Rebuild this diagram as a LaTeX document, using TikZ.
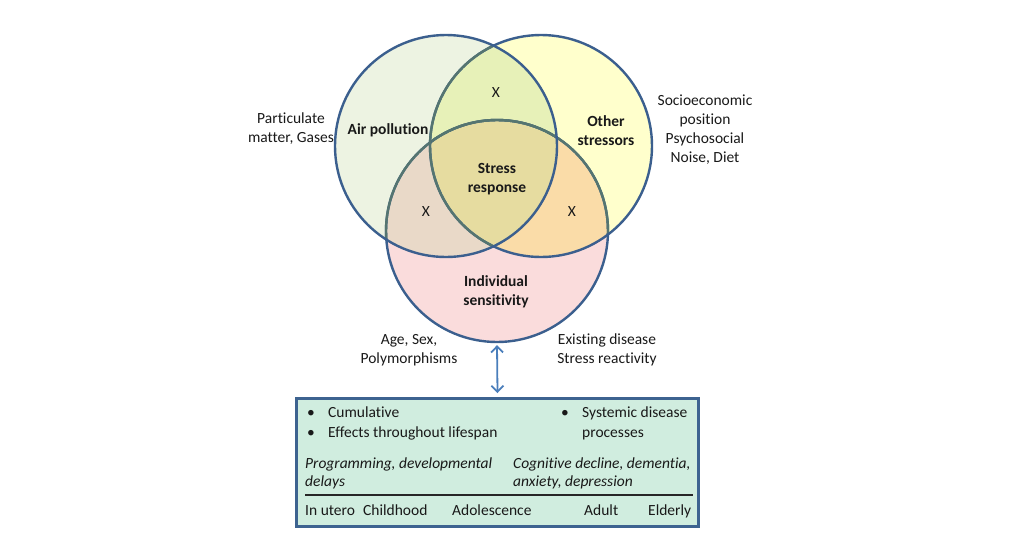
\documentclass[tikz,border=0pt]{standalone}
\usepackage{fontspec}
\setmainfont{Carlito}[Ligatures=NoCommon]
\usetikzlibrary{arrows.meta}
\definecolor{fillL}{HTML}{EDF3E2}
\definecolor{fillR}{HTML}{FFFFCC}
\definecolor{fillB}{HTML}{FADCDC}
\definecolor{fillLR}{HTML}{E7F1B8}
\definecolor{fillLB}{HTML}{E9D9C8}
\definecolor{fillRB}{HTML}{FADCA8}
\definecolor{fillLRB}{HTML}{E6DCA0}
\definecolor{outblue}{HTML}{3B5F8E}
\definecolor{outgrey}{HTML}{557570}
\definecolor{arrblue}{HTML}{4A7EBB}
\definecolor{boxfill}{HTML}{D0EDDF}
\definecolor{boxline}{HTML}{3D6390}
\begin{document}
\begin{tikzpicture}[x=1pt,y=-1pt,
  txt/.style={font=\fontsize{15.5}{19}\selectfont, inner sep=0pt, align=center, text=black!90},
  btxt/.style={txt, font=\fontsize{15.5}{19}\selectfont\bfseries},
  ltxt/.style={txt, anchor=base west, align=left, font=\fontsize{15.5}{20}\selectfont},
  itxt/.style={txt, anchor=north west, align=left, font=\fontsize{15.5}{18}\selectfont\itshape},
  outl/.style={draw=outblue, line width=2.4pt},
  outg/.style={draw=outgrey, line width=2.4pt},
  arr/.style={draw=arrblue, line width=1.8pt, {Straight Barb[length=6pt,width=12pt]}-{Straight Barb[length=6pt,width=12pt]}},
  venn/.style={circle, minimum size=222pt, inner sep=0pt}
]
\useasboundingbox (0,0) rectangle (1015,552);
\def\rad{111pt}
\coordinate (cL) at (446,146);
\coordinate (cR) at (541,146);
\coordinate (cB) at (497,231);
\node[venn] (L) at (cL) {};
\node[venn] (R) at (cR) {};
\node[venn] (B) at (cB) {};
% fills
\fill[fillL] (cL) circle (\rad);
\fill[fillR] (cR) circle (\rad);
\fill[fillB] (cB) circle (\rad);
\begin{scope}
  \clip (cR) circle (\rad);
  \fill[fillRB] (cB) circle (\rad);
\end{scope}
\begin{scope}
  \clip (cL) circle (\rad);
  \fill[fillLR] (cR) circle (\rad);
  \fill[fillLB] (cB) circle (\rad);
  \clip (cR) circle (\rad);
  \fill[fillLRB] (cB) circle (\rad);
\end{scope}
% outlines
\draw[outl] (cB) circle (\rad);
\begin{scope}\clip (cL) circle (\rad); \draw[outg] (cB) circle (\rad);\end{scope}
\begin{scope}\clip (cR) circle (\rad); \draw[outg] (cB) circle (\rad);\end{scope}
\draw[outl] (cR) circle (\rad);
\begin{scope}\clip (cL) circle (\rad); \draw[outg] (cR) circle (\rad);\end{scope}
\draw[outl] (cL) circle (\rad);
% circle labels
\node[btxt] (ap) at (388,130) {Air pollution};
\node[btxt] (os) at (606,131) {Other\\stressors};
\node[btxt] (sr) at (497,179) {Stress\\response};
\node[btxt] (is) at (496,292) {Individual\\sensitivity};
\node[txt] (x1) at (496,93) {X};
\node[txt] (x2) at (426,212) {X};
\node[txt] (x3) at (572,212) {X};
% side labels
\node[txt] (pm) at (291,129) {Particulate\\matter, Gases};
\node[txt] (se) at (705,130) {Socioeconomic\\position\\Psychosocial\\Noise, Diet};
\node[txt] (as) at (409,350) {Age, Sex,\\Polymorphisms};
\node[txt] (ed) at (607,350) {Existing disease\\Stress reactivity};
% box
\node[draw=boxline, line width=3pt, fill=boxfill, minimum width=402pt, minimum height=128pt, inner sep=0pt, anchor=north west] (box) at (295,397) {};
\draw[arr] ([yshift=-3pt]B.south) -- ([yshift=4pt]box.north);
\node[ltxt] (b1) at (307,417.5) {•};
\node[ltxt] (t1) at (328,417.5) {Cumulative};
\node[ltxt] (b2) at (307,437.5) {•};
\node[ltxt] (t2) at (328,437.5) {Effects throughout lifespan};
\node[ltxt] (b3) at (561,417.5) {•};
\node[ltxt, anchor=north west] (t3) at (582,407) {Systemic disease\\processes};
\node[itxt] (i1) at (305,458) {Programming, developmental\\delays};
\node[itxt] (i2) at (513,458) {Cognitive decline, dementia,\\anxiety, depression};
\coordinate (tlA) at (305,495);
\coordinate (tlB) at (693,495);
\draw[line width=1.3pt, black!85] (tlA) -- (tlB);
\node[ltxt] (s1) at (305,515.5) {In utero};
\node[ltxt] (s2) at (363,515.5) {Childhood};
\node[ltxt] (s3) at (452,515.5) {Adolescence};
\node[ltxt] (s4) at (584,515.5) {Adult};
\node[ltxt] (s5) at (648,515.5) {Elderly};
\end{tikzpicture}
\end{document}
